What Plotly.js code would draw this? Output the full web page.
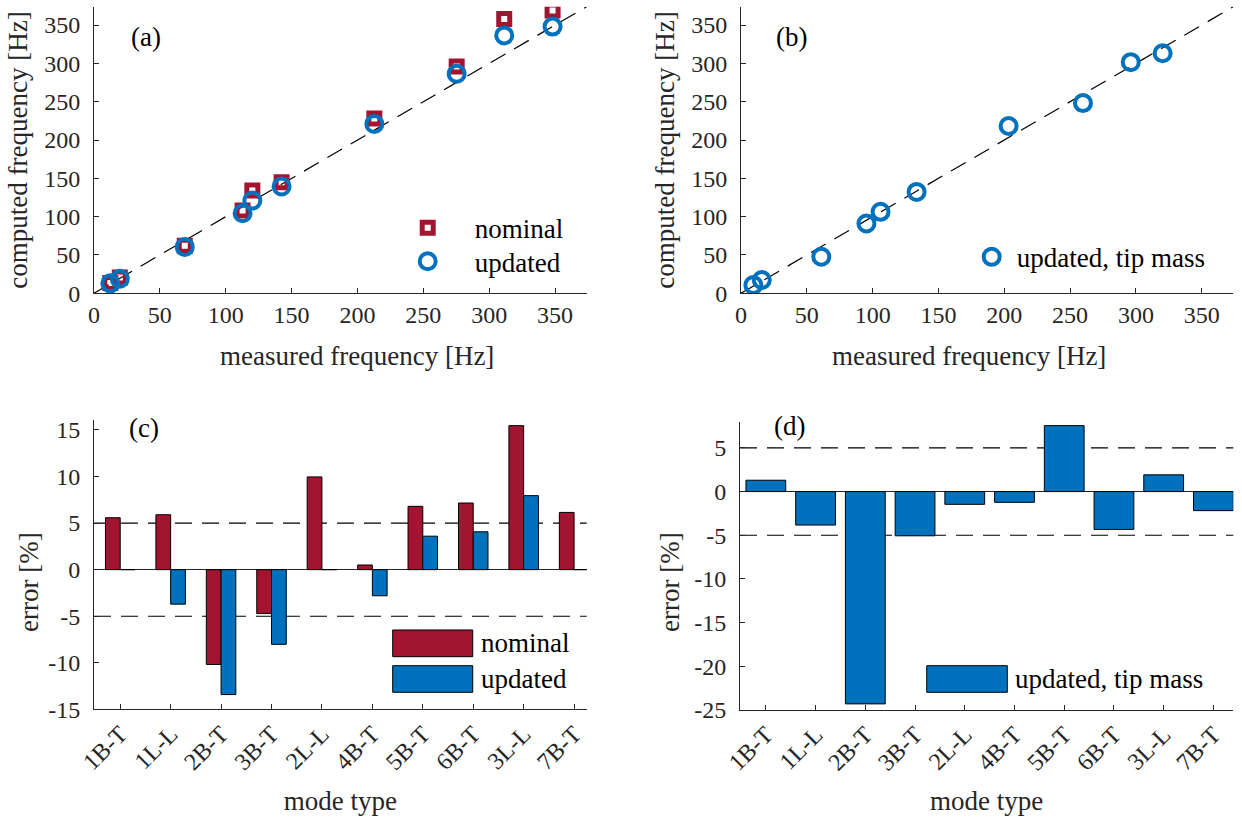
<!DOCTYPE html>
<html><head><meta charset="utf-8">
<script src="https://cdn.plot.ly/plotly-3.0.1.min.js"></script>
<style>html,body{margin:0;padding:0;background:#fff}#chart{width:1242px;height:820px}</style>
</head><body><div id="chart"></div>
<script>
// ---- panel (a): measured vs computed frequency [Hz]
const measuredA = [12.4, 19.6, 68.9, 112.8, 120.2, 142.4, 212.8, 275.3, 311.4, 348.1];
const nominalA  = [13.5, 20.5, 62.0, 108.0, 134.0, 145.0, 228.0, 296.0, 358.0, 369.0];
const updatedA  = [13.0, 19.0, 60.5, 104.5, 121.0, 139.5, 221.0, 286.5, 336.5, 348.0];
// ---- panel (b): tip mass configuration
const measuredB   = [9.4, 15.8, 61.0, 95.3, 106.0, 133.4, 203.3, 259.8, 296.1, 320.3];
const updatedTipB = [10.8, 17.3, 47.7, 91.1, 106.3, 132.3, 218.3, 248.2, 301.6, 313.3];
// ---- panels (c), (d): errors [%]
const modeTypes  = ['1B-T','1L-L','2B-T','3B-T','2L-L','4B-T','5B-T','6B-T','3L-L','7B-T'];
const errNominal = [5.57, 5.89, -10.17, -4.71, 9.95, 0.50, 6.79, 7.15, 15.45, 6.14];
const errUpdated = [0, -3.70, -13.40, -8.01, 0, -2.80, 3.59, 4.06, 7.94, 0];
const errTipMass = [1.30, -3.83, -24.30, -5.06, -1.46, -1.23, 7.55, -4.33, 1.92, -2.18];
// ---- reference lines and ticks
const diagLine   = [0, 374];
const tolerance  = [5, -5];
const freqTicks  = [0, 50, 100, 150, 200, 250, 300, 350];
const errTicksC  = [-15, -10, -5, 0, 5, 10, 15];
const errTicksD  = [-25, -20, -15, -10, -5, 0, 5];

const RED = '#A2142F', BLUE = '#0072BD', INK = '#262626';
const FONT = 'Liberation Serif, Times New Roman, serif';

const dashLine = {color: '#000', width: 1.2, dash: '17px,10px'};
const traces = [
  {x: diagLine, y: diagLine, xaxis: 'x', yaxis: 'y', mode: 'lines', line: dashLine, showlegend: false, hoverinfo: 'skip'},
  {x: measuredA, y: nominalA, xaxis: 'x', yaxis: 'y', mode: 'markers', name: 'nominal', legend: 'legend',
   marker: {symbol: 'square-open', size: 11, color: RED, line: {width: 5, color: RED}}},
  {x: measuredA, y: updatedA, xaxis: 'x', yaxis: 'y', mode: 'markers', name: 'updated', legend: 'legend3',
   marker: {symbol: 'circle-open', size: 16, color: BLUE, line: {width: 4, color: BLUE}}},
  {x: diagLine, y: diagLine, xaxis: 'x2', yaxis: 'y2', mode: 'lines', line: dashLine, showlegend: false, hoverinfo: 'skip'},
  {x: measuredB, y: updatedTipB, xaxis: 'x2', yaxis: 'y2', mode: 'markers', name: 'updated, tip mass', legend: 'legend2',
   marker: {symbol: 'circle-open', size: 16, color: BLUE, line: {width: 4, color: BLUE}}},
  {type: 'bar', x: modeTypes, y: errNominal, xaxis: 'x3', yaxis: 'y3', name: 'nominal', showlegend: false,
   width: 0.2925, offset: -0.2925, marker: {color: RED, line: {color: '#000', width: 1}}},
  {type: 'bar', x: modeTypes, y: errUpdated, xaxis: 'x3', yaxis: 'y3', name: 'updated', showlegend: false,
   width: 0.2925, offset: 0, marker: {color: BLUE, line: {color: '#000', width: 1}}},
  {type: 'bar', x: modeTypes, y: errTipMass, xaxis: 'x4', yaxis: 'y4', name: 'updated, tip mass', showlegend: false,
   width: 0.8, marker: {color: BLUE, line: {color: '#000', width: 1}}}
];

function ax(extra) {
  return Object.assign({
    showline: true, linecolor: INK, linewidth: 1, mirror: false,
    ticks: 'inside', ticklen: 5, tickwidth: 1, tickcolor: INK,
    showgrid: false, zeroline: false, fixedrange: true,
    tickfont: {family: FONT, size: 24, color: INK}
  }, extra);
}
function ttl(text, standoff) {
  return {text: text, standoff: standoff, font: {family: FONT, size: 27, color: INK}};
}

const shapes = [];
tolerance.forEach(t => {
  shapes.push({type: 'line', layer: 'below', xref: 'x3 domain', x0: 0, x1: 1, yref: 'y3', y0: t, y1: t, line: dashLine});
  shapes.push({type: 'line', layer: 'below', xref: 'x4 domain', x0: 0, x1: 1, yref: 'y4', y0: t, y1: t, line: dashLine});
});
// bar legends (patches)
const patch = (x0, x1, y0, y1, c) => ({type: 'rect', xref: 'paper', yref: 'paper', x0, x1, y0, y1,
  fillcolor: c, line: {color: '#000', width: 1}});
shapes.push(patch(0.31618, 0.38060, 0.19915, 0.23171, RED));
shapes.push(patch(0.31618, 0.38060, 0.15573, 0.18817, BLUE));
shapes.push(patch(0.74614, 0.81103, 0.15573, 0.18817, BLUE));

const lab = (text, x, y, xanchor, size, color, angle) => ({text, x, y, xref: 'paper', yref: 'paper', showarrow: false,
  xanchor: xanchor, yanchor: 'middle', textangle: angle || 0, font: {family: FONT, size: size, color: color || '#000'}});
const annotations = [
  lab('(a)', 0.11755, 0.95488, 'center', 27),
  lab('(b)', 0.63768, 0.95488, 'center', 27),
  lab('(c)', 0.11594, 0.47805, 'center', 27),
  lab('(d)', 0.63527, 0.48049, 'center', 27),
  lab('nominal', 0.38591, 0.21549, 'left', 27),
  lab('updated', 0.38591, 0.17195, 'left', 27),
  lab('updated, tip mass', 0.81586, 0.17195, 'left', 27),
  // axis titles placed as in the reference
  lab('measured frequency [Hz]', 0.28744, 0.56585, 'center', 27, INK),
  lab('measured frequency [Hz]', 0.78019, 0.56585, 'center', 27, INK),
  lab('error [%]', 0.02335, 0.29024, 'center', 27, INK, -90),
  lab('error [%]', 0.53945, 0.29024, 'center', 27, INK, -90)
];

const legFont = {family: FONT, size: 27, color: '#000'};
const legBase = {xanchor: 'left', yanchor: 'middle', bgcolor: 'rgba(0,0,0,0)', font: legFont};
const layout = {
  width: 1242, height: 820, autosize: false,
  margin: {l: 0, r: 0, t: 0, b: 0},
  paper_bgcolor: '#fff', plot_bgcolor: 'rgba(0,0,0,0)',
  barmode: 'overlay',
  showlegend: true,
  legend:  Object.assign({x: 0.30652, y: 1 - 228.3 / 820, itemwidth: 84}, legBase),
  legend3: Object.assign({x: 0.30652, y: 1 - 261.7 / 820, itemwidth: 84}, legBase),
  legend2: Object.assign({x: 0.77834, y: 1 - 257.3 / 820, itemwidth: 40}, legBase),
  xaxis: ax({domain: [0.07568, 0.47238], anchor: 'y', range: [0, 374], tickvals: freqTicks}),
  yaxis: ax({domain: [0.64232, 0.99183], anchor: 'x', range: [0, 374], tickvals: freqTicks,
             ticklabelstandoff: 8, title: ttl('computed frequency [Hz]', 8)}),
  xaxis2: ax({domain: [0.59662, 0.99300], anchor: 'y2', range: [0, 374], tickvals: freqTicks}),
  yaxis2: ax({domain: [0.64232, 0.99183], anchor: 'x2', range: [0, 374], tickvals: freqTicks,
             ticklabelstandoff: 8, title: ttl('computed frequency [Hz]', 8)}),
  xaxis3: ax({domain: [0.07568, 0.47238], anchor: 'y3', type: 'category', categoryarray: modeTypes,
             range: [-0.52, 9.25], tickangle: -45, title: ttl('mode type', 16)}),
  yaxis3: ax({domain: [0.13476, 0.48720], anchor: 'x3', range: [-15, 16], tickvals: errTicksC,
             ticktext: errTicksC.map(String), ticklabelstandoff: 8,
             zeroline: true, zerolinecolor: INK, zerolinewidth: 1}),
  xaxis4: ax({domain: [0.59581, 0.99300], anchor: 'y4', type: 'category', categoryarray: modeTypes,
             range: [-0.52, 9.40], tickangle: -45, title: ttl('mode type', 16)}),
  yaxis4: ax({domain: [0.13415, 0.48573], anchor: 'x4', range: [-25, 8], tickvals: errTicksD,
             ticktext: errTicksD.map(String), ticklabelstandoff: 8,
             zeroline: true, zerolinecolor: INK, zerolinewidth: 1}),
  shapes: shapes,
  annotations: annotations
};

Plotly.newPlot('chart', traces, layout, {displayModeBar: false, staticPlot: true});
</script>
</body></html>
